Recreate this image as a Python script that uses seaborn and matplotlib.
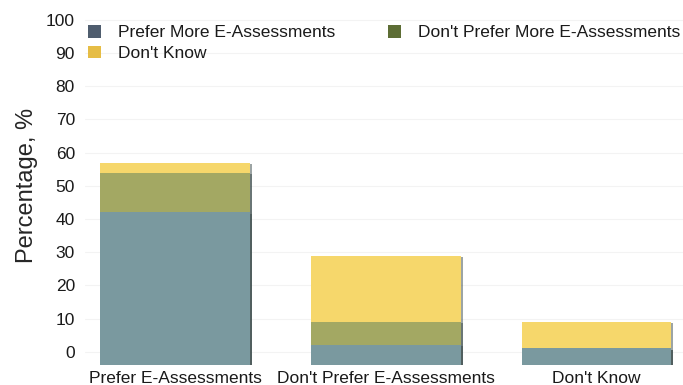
import numpy as np
import pandas as pd
import seaborn as sns
import matplotlib.pyplot as plt
import matplotlib.patheffects as pe
from matplotlib.patches import Patch

categories = ["Prefer E-Assessments", "Don't Prefer E-Assessments", "Don't Know"]
prefer_more = [42, 2, 1]
dont_prefer_more = [12, 7, 0]
dont_know = [3, 20, 8]
series_names = ["Prefer More E-Assessments", "Don't Prefer More E-Assessments", "Don't Know"]

bar_colors = ["#7a999f", "#a3a863", "#f6d76b"]
legend_colors = ["#4f5d6e", "#5d6d35", "#e6bd45"]
DEPTH = 4  # 3D plinth below zero

sns.set_style("white")
plt.rcParams["font.family"] = ["Liberation Sans", "DejaVu Sans"]
plt.rcParams["text.color"] = "#1a1a1a"
plt.rcParams["xtick.color"] = "#1a1a1a"
plt.rcParams["ytick.color"] = "#1a1a1a"

fig = plt.figure(figsize=(6.83, 3.85), dpi=100)
ax = fig.add_axes([0.124, 0.052, 0.876, 0.922])

# stacked bars: draw cumulative totals, tallest first
stack = np.array([prefer_more, dont_prefer_more, dont_know], dtype=float)
cum = stack.cumsum(axis=0)
for i in [2, 1, 0]:
    df = pd.DataFrame({"cat": categories, "val": cum[i]})
    sns.barplot(data=df, x="cat", y="val", color=bar_colors[i], saturation=1,
                width=0.71, order=categories, ax=ax, linewidth=0, zorder=2)

shadow = [pe.SimplePatchShadow(offset=(1.5, -1), shadow_rgbFace="#3a4a4a", alpha=0.5), pe.Normal()]
for p in ax.patches:
    h = p.get_height()
    if h > 0:
        p.set_y(-DEPTH)
        p.set_height(h + DEPTH)
        p.set_path_effects(shadow)

ax.set_xlim(-0.43, 2.41)
ax.set_ylim(-4, 103)
ax.set_yticks(range(0, 101, 10))
ax.yaxis.grid(True, color="#f3f3f3", linewidth=0.8, zorder=0)
ax.set_axisbelow(True)
for s in ax.spines.values():
    s.set_visible(False)
ax.tick_params(axis="y", length=0, pad=7, labelsize=12.5)
ax.tick_params(axis="x", length=0, pad=4, labelsize=12.5)
ax.set_xlabel("")
ax.set_ylabel("Percentage, %", fontsize=17)
ax.yaxis.set_label_coords(-0.097, 0.507)
ax.yaxis.label.set_verticalalignment("center")

handles = [Patch(facecolor=c, edgecolor="none") for c in legend_colors]
order = [0, 2, 1]
fig.legend([handles[k] for k in order], [series_names[k] for k in order],
           ncol=2, loc="upper left", bbox_to_anchor=(88 / 683, 1 - 25 / 385),
           frameon=False, fontsize=12.5, handlelength=0.75, handleheight=0.75,
           handletextpad=1.0, labelspacing=0.3, columnspacing=3.0,
           borderpad=0, borderaxespad=0)

fig.savefig("out.png", dpi=100)
